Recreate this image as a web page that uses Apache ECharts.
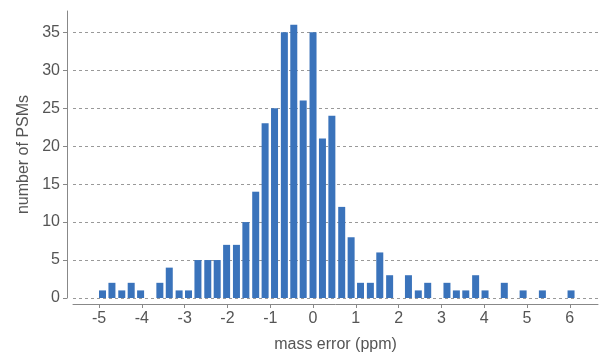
<!DOCTYPE html>
<html>
<head>
<meta charset="utf-8">
<script src="https://cdn.jsdelivr.net/npm/echarts@6/dist/echarts.min.js"></script>
<style>
  html, body { margin: 0; padding: 0; background: #fff; }
  #chart { width: 599px; height: 354px; }
</style>
</head>
<body>
<div id="chart"></div>
<script>
// bin centres (ppm) and PSM counts
const binCenters = [
  -4.92, -4.70, -4.47, -4.25, -4.03, -3.80, -3.58, -3.36, -3.13, -2.91,
  -2.69, -2.46, -2.24, -2.02, -1.79, -1.57, -1.34, -1.12, -0.90, -0.67,
  -0.45, -0.23, 0.00, 0.22, 0.44, 0.67, 0.89, 1.11, 1.34, 1.56,
  1.79, 2.01, 2.23, 2.46, 2.68, 2.90, 3.13, 3.35, 3.57, 3.80,
  4.02, 4.25, 4.47, 4.69, 4.91, 5.14, 5.36, 5.58, 5.81, 6.03
]
const counts = [
  1, 2, 1, 2, 1, 0, 2, 4, 1, 1,
  5, 5, 5, 7, 7, 10, 14, 23, 25, 35,
  36, 26, 35, 21, 24, 12, 8, 2, 2, 6,
  3, 0, 3, 1, 2, 0, 2, 1, 1, 3,
  1, 0, 2, 0, 1, 0, 1, 0, 0, 1
]
const xTicks = [-5, -4, -3, -2, -1, 0, 1, 2, 3, 4, 5, 6]
const yTicks = [0, 5, 10, 15, 20, 25, 30, 35]

const chart = echarts.init(document.getElementById('chart'))

const axisColor = '#888'
const labelColor = '#555'
const font = 'Liberation Sans'

chart.setOption({
  animation: false,
  grid: { left: 73, right: 1, top: 11, bottom: 56, containLabel: false, outerBoundsMode: 'none' },
  xAxis: {
    type: 'value',
    min: -5.61,
    max: 6.66,
    offset: 6,
    name: 'mass error (ppm)',
    nameLocation: 'middle',
    nameGap: 33,
    nameTextStyle: { fontFamily: font, fontSize: 16, color: labelColor },
    axisLine: { show: true, onZero: false, lineStyle: { color: axisColor, width: 1 } },
    axisTick: { show: true, length: 4, customValues: xTicks, lineStyle: { color: axisColor } },
    axisLabel: {
      customValues: xTicks,
      fontFamily: font, fontSize: 16, color: labelColor, margin: 7
    },
    splitLine: { show: false }
  },
  yAxis: {
    type: 'value',
    min: 0,
    max: 37.8,
    interval: 5,
    offset: 6,
    name: 'number of PSMs',
    nameLocation: 'middle',
    nameGap: 35,
    nameTextStyle: { fontFamily: font, fontSize: 16, color: labelColor },
    axisLine: { show: true, onZero: false, lineStyle: { color: axisColor, width: 1 } },
    axisTick: { show: true, length: 4, customValues: yTicks, lineStyle: { color: axisColor } },
    axisLabel: {
      customValues: yTicks,
      fontFamily: font, fontSize: 16, color: labelColor, margin: 7
    },
    splitLine: {
      show: true,
      lineStyle: { color: '#999', type: [3, 3], width: 1 }
    }
  },
  series: [{
    type: 'bar',
    data: binCenters.map((x, i) => [x, counts[i]]),
    barWidth: 7,
    itemStyle: { color: '#3a73bb' }
  }]
})
</script>
</body>
</html>
